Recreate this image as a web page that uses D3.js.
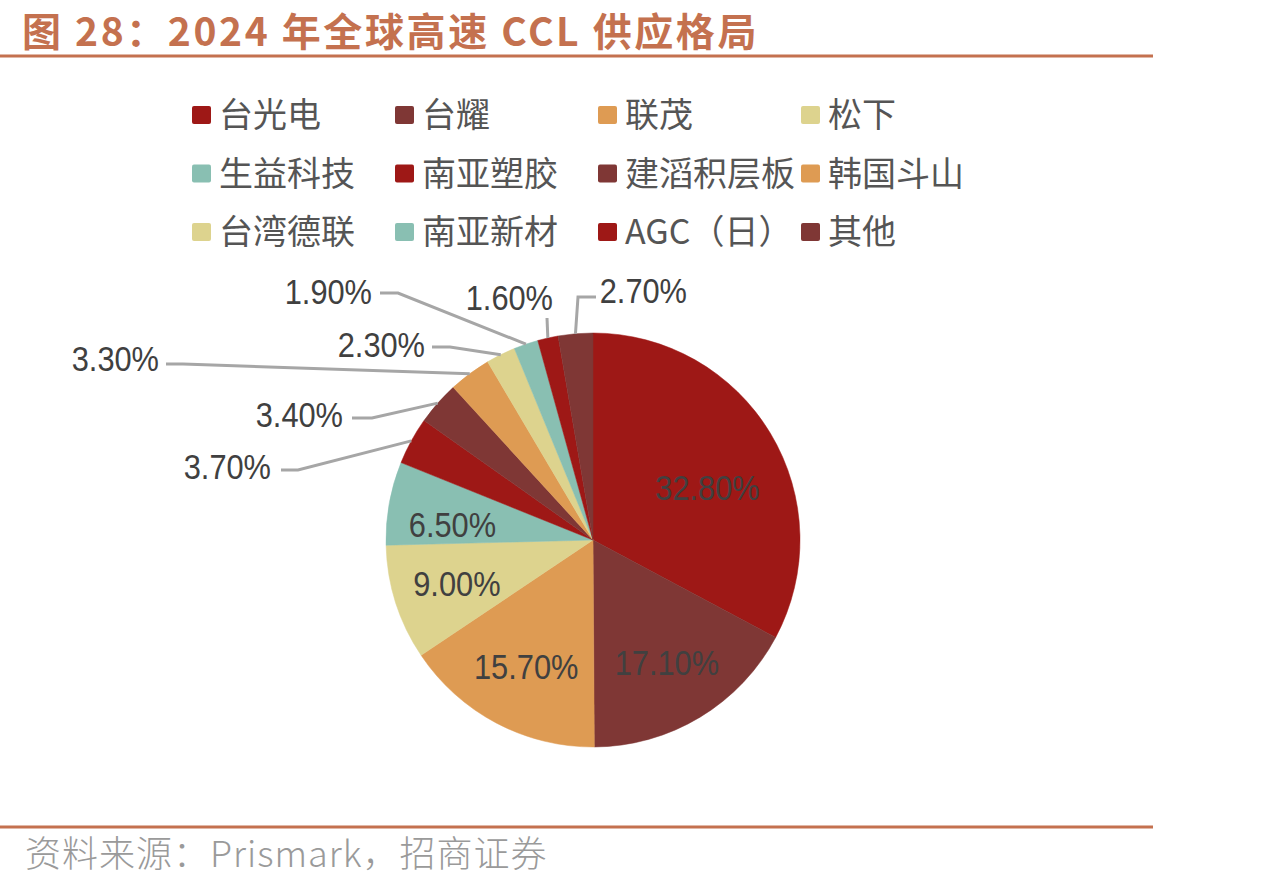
<!DOCTYPE html>
<html>
<head>
<meta charset="utf-8">
<script src="https://cdn.jsdelivr.net/npm/d3@7"></script>
<style>
  body { margin: 0; background: #fff; }
  svg { display: block; }
</style>
</head>
<body>
<script>
const width = 1261;
const height = 888;

// data
const companies = ["台光电", "台耀", "联茂", "松下", "生益科技", "南亚塑胶", "建滔积层板", "韩国斗山", "台湾德联", "南亚新材", "AGC（日）", "其他"];
const shares = [32.8, 17.1, 15.7, 9.0, 6.5, 3.7, 3.4, 3.3, 2.3, 1.9, 1.6, 2.7];
const palette = ["#9E1816", "#7F3735", "#DE9B53", "#DDD38E", "#89BFB2"];

// label placement for the small slices (outside, with leader lines)
const outsideLabels = {
  5: { x: 271, y: 479, pts: [[281, 470], [298, 470]] },
  6: { x: 343, y: 427, pts: [[352, 418], [372, 418]] },
  7: { x: 159, y: 371, pts: [[166, 364], [183, 364]] },
  8: { x: 425, y: 357, pts: [[432, 347], [450, 347]] },
  9: { x: 372, y: 304, pts: [[380, 293], [398, 293]] },
  10: { x: 553, y: 310, pts: [[547, 318]] },
  11: { x: 687, y: 303, pts: [[596, 297], [578, 297]] }
};
// small nudges for inside labels (excel moved a couple)
const insideNudge = { 0: [-8, 21], 4: [0, 10] };

const accent = "#C4714F";
const labelFont = "'Liberation Sans', Arial, sans-serif";
const cjkFont = "'Noto Sans CJK SC', 'Noto Sans', sans-serif";

const svg = d3
  .select("body")
  .append("svg")
  .attr("width", width)
  .attr("height", height);

// title + rules
svg
  .append("text")
  .attr("x", 22)
  .attr("y", 46)
  .attr("fill", accent)
  .attr("font-family", cjkFont)
  .attr("font-weight", "bold")
  .attr("font-size", 39)
  .attr("letter-spacing", 2.6)
  .text("图 28：2024 年全球高速 CCL 供应格局");

[56, 827].forEach(y => {
  svg
    .append("line")
    .attr("x1", 0)
    .attr("x2", 1153)
    .attr("y1", y)
    .attr("y2", y)
    .attr("stroke", accent)
    .attr("stroke-width", 3);
});

svg
  .append("text")
  .attr("x", 25)
  .attr("y", 867)
  .attr("fill", "#9a9a9a")
  .attr("font-family", cjkFont)
  .attr("font-weight", 300)
  .attr("font-size", 36)
  .attr("letter-spacing", 1)
  .text("资料来源：Prismark，招商证券");

// legend
const color = (d, i) => palette[i % palette.length];
const legend = svg
  .append("g")
  .selectAll("g")
  .data(companies)
  .join("g")
  .attr("transform", (d, i) => `translate(${192 + (i % 4) * 203},${115 + Math.floor(i / 4) * 58.5})`);

legend
  .append("rect")
  .attr("x", 0)
  .attr("y", -9)
  .attr("width", 19)
  .attr("height", 18)
  .attr("rx", 2)
  .attr("fill", color);

legend
  .append("text")
  .attr("x", 27)
  .attr("y", 0)
  .attr("dy", "0.36em")
  .attr("fill", "#555")
  .attr("font-family", cjkFont)
  .attr("font-size", 34)
  .text(d => d);

// pie
const cx = 593;
const cy = 540;
const r = 207;

const pie = d3.pie().sort(null).value(d => d);
const arcs = pie(shares);
const arc = d3.arc().innerRadius(0).outerRadius(r);
const labelArc = d3.arc().innerRadius(r * 0.69).outerRadius(r * 0.69);

const g = svg.append("g").attr("transform", `translate(${cx},${cy})`);

g.selectAll("path")
  .data(arcs)
  .join("path")
  .attr("d", arc)
  .attr("fill", (d, i) => palette[i % palette.length])
  .attr("stroke", (d, i) => palette[i % palette.length])
  .attr("stroke-width", 0.5);

function edgePoint(d) {
  const a = (d.startAngle + d.endAngle) / 2;
  return [cx + r * Math.sin(a), cy - r * Math.cos(a)];
}

const fmt = v => v.toFixed(2) + "%";

arcs.forEach((d, i) => {
  const out = outsideLabels[i];
  if (!out) {
    const [lx, ly] = labelArc.centroid(d);
    const [nx, ny] = insideNudge[i] || [0, 0];
    svg
      .append("text")
      .attr("transform", `translate(${cx + lx + nx},${cy + ly + ny}) scale(0.88,1)`)
      .attr("text-anchor", "middle")
      .attr("dy", "0.36em")
      .attr("fill", "#404040")
      .attr("font-family", labelFont)
      .attr("font-size", 35)
      .text(fmt(shares[i]));
    return;
  }
  svg
    .append("path")
    .attr("d", d3.line()(out.pts.concat([edgePoint(d)])))
    .attr("fill", "none")
    .attr("stroke", "#A6A6A6")
    .attr("stroke-width", 3);
  svg
    .append("text")
    .attr("transform", `translate(${out.x},${out.y}) scale(0.88,1)`)
    .attr("text-anchor", "end")
    .attr("fill", "#404040")
    .attr("font-family", labelFont)
    .attr("font-size", 35)
    .text(fmt(shares[i]));
});
</script>
</body>
</html>
